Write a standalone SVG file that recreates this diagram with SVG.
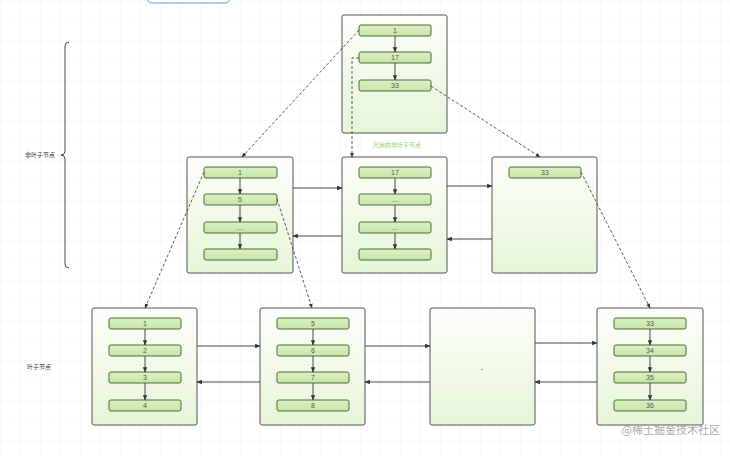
<svg xmlns="http://www.w3.org/2000/svg" width="730" height="456" viewBox="0 0 730 456">
<defs>
<pattern id="grid" width="20" height="20" patternUnits="userSpaceOnUse"><path d="M20 0H0V20" fill="none" stroke="#f4f4f4" stroke-width="1"/></pattern>
<linearGradient id="boxg" x1="0" y1="0" x2="0" y2="1"><stop offset="0" stop-color="#fdfefb"/><stop offset="1" stop-color="#e6f5d8"/></linearGradient>
<linearGradient id="rowg" x1="0" y1="0" x2="0" y2="1"><stop offset="0" stop-color="#dcf0c6"/><stop offset="1" stop-color="#c6e6a6"/></linearGradient>
<marker id="ar" viewBox="0 0 10 10" refX="9" refY="5" markerWidth="6" markerHeight="6" orient="auto"><path d="M0 1L10 5L0 9Z" fill="#333"/></marker>
<style>
.box{fill:url(#boxg);stroke:#555;stroke-width:1}
.row{fill:url(#rowg);stroke:#4d6b3a;stroke-width:1}
.t{font-family:"Liberation Sans",Arial,sans-serif;font-size:7px;fill:#555;text-anchor:middle}
.lab{font-family:"Noto Sans CJK SC",sans-serif;font-size:6px;fill:#333}
.s{fill:none;stroke:#333;stroke-width:0.9}
.d{fill:none;stroke:#333;stroke-width:0.8;stroke-dasharray:3 2}
</style>
</defs>
<rect width="730" height="456" fill="#fff"/>
<rect width="730" height="456" fill="url(#grid)"/>
<rect x="147" y="-10" width="83" height="13" rx="5" fill="#fff" stroke="#5b9be0" stroke-width="1"/>

<g id="top">
<rect class="box" x="342" y="15" width="105" height="118" rx="2"/>
<rect class="row" x="359" y="25" width="72" height="11" rx="2"/><text class="t" x="395" y="33">1</text>
<rect class="row" x="359" y="52" width="72" height="11" rx="2"/><text class="t" x="395" y="60">17</text>
<rect class="row" x="359" y="80" width="72" height="11" rx="2"/><text class="t" x="395" y="88">33</text>
</g>
<text x="397" y="147" style="font-family:'Noto Sans CJK SC',sans-serif;font-size:6px;fill:#9acd60;text-anchor:middle">冗余的非叶子节点</text>

<g id="nA">
<rect class="box" x="187" y="157" width="106" height="116" rx="2"/>
<rect class="row" x="204" y="167" width="73" height="11" rx="2"/><text class="t" x="240" y="175">1</text>
<rect class="row" x="204" y="194" width="73" height="11" rx="2"/><text class="t" x="240" y="202">5</text>
<rect class="row" x="204" y="222" width="73" height="11" rx="2"/><text class="t" x="240" y="230">...</text>
<rect class="row" x="204" y="249" width="73" height="11" rx="2"/>
</g>
<g id="nB">
<rect class="box" x="342" y="157" width="105" height="116" rx="2"/>
<rect class="row" x="359" y="167" width="72" height="11" rx="2"/><text class="t" x="395" y="175">17</text>
<rect class="row" x="359" y="194" width="72" height="11" rx="2"/><text class="t" x="395" y="202">...</text>
<rect class="row" x="359" y="222" width="72" height="11" rx="2"/><text class="t" x="395" y="230">...</text>
<rect class="row" x="359" y="249" width="72" height="11" rx="2"/>
</g>
<g id="nC">
<rect class="box" x="492" y="157" width="105" height="116" rx="2"/>
<rect class="row" x="509" y="167" width="72" height="11" rx="2"/><text class="t" x="545" y="175">33</text>
</g>

<g id="lD">
<rect class="box" x="92" y="308" width="105" height="117" rx="2"/>
<rect class="row" x="109" y="318" width="72" height="11" rx="2"/><text class="t" x="145" y="326">1</text>
<rect class="row" x="109" y="345" width="72" height="11" rx="2"/><text class="t" x="145" y="353">2</text>
<rect class="row" x="109" y="372" width="72" height="11" rx="2"/><text class="t" x="145" y="380">3</text>
<rect class="row" x="109" y="400" width="72" height="11" rx="2"/><text class="t" x="145" y="408">4</text>
</g>
<g id="lE">
<rect class="box" x="260" y="308" width="105" height="117" rx="2"/>
<rect class="row" x="277" y="318" width="72" height="11" rx="2"/><text class="t" x="313" y="326">5</text>
<rect class="row" x="277" y="345" width="72" height="11" rx="2"/><text class="t" x="313" y="353">6</text>
<rect class="row" x="277" y="372" width="72" height="11" rx="2"/><text class="t" x="313" y="380">7</text>
<rect class="row" x="277" y="400" width="72" height="11" rx="2"/><text class="t" x="313" y="408">8</text>
</g>
<g id="lF">
<rect class="box" x="430" y="308" width="105" height="117" rx="2"/>
<text class="t" x="482" y="371">-</text>
</g>
<g id="lG">
<rect class="box" x="597" y="308" width="106" height="117" rx="2"/>
<rect class="row" x="614" y="318" width="72" height="11" rx="2"/><text class="t" x="650" y="326">33</text>
<rect class="row" x="614" y="345" width="72" height="11" rx="2"/><text class="t" x="650" y="353">34</text>
<rect class="row" x="614" y="372" width="72" height="11" rx="2"/><text class="t" x="650" y="380">35</text>
<rect class="row" x="614" y="400" width="72" height="11" rx="2"/><text class="t" x="650" y="408">36</text>
</g>

<g id="connectors">
<path class="s" marker-end="url(#ar)" d="M395 36V52"/><path class="s" marker-end="url(#ar)" d="M395 63V80"/>
<path class="s" marker-end="url(#ar)" d="M240 178V194"/><path class="s" marker-end="url(#ar)" d="M240 205V222"/><path class="s" marker-end="url(#ar)" d="M240 233V249"/>
<path class="s" marker-end="url(#ar)" d="M395 178V194"/><path class="s" marker-end="url(#ar)" d="M395 205V222"/><path class="s" marker-end="url(#ar)" d="M395 233V249"/>
<path class="s" marker-end="url(#ar)" d="M145 329V345"/><path class="s" marker-end="url(#ar)" d="M145 356V372"/><path class="s" marker-end="url(#ar)" d="M145 383V400"/>
<path class="s" marker-end="url(#ar)" d="M313 329V345"/><path class="s" marker-end="url(#ar)" d="M313 356V372"/><path class="s" marker-end="url(#ar)" d="M313 383V400"/>
<path class="s" marker-end="url(#ar)" d="M650 329V345"/><path class="s" marker-end="url(#ar)" d="M650 356V372"/><path class="s" marker-end="url(#ar)" d="M650 383V400"/>
<path class="s" marker-end="url(#ar)" d="M293 188H342"/>
<path class="s" marker-end="url(#ar)" d="M342 236H293"/>
<path class="s" marker-end="url(#ar)" d="M447 186H492"/>
<path class="s" marker-end="url(#ar)" d="M492 239H447"/>
<path class="s" marker-end="url(#ar)" d="M197 346H260"/>
<path class="s" marker-end="url(#ar)" d="M260 382H197"/>
<path class="s" marker-end="url(#ar)" d="M365 346H430"/>
<path class="s" marker-end="url(#ar)" d="M430 382H365"/>
<path class="s" marker-end="url(#ar)" d="M535 343H597"/>
<path class="s" marker-end="url(#ar)" d="M597 382H535"/>
<path class="d" marker-end="url(#ar)" d="M359 30L242 157"/>
<path class="d" marker-end="url(#ar)" d="M431 86L540 157"/>
<path class="d" marker-end="url(#ar)" d="M359 58H352V157"/>
<path class="d" marker-end="url(#ar)" d="M204 172L145 308"/>
<path class="d" marker-end="url(#ar)" d="M277 199L312 308"/>
<path class="d" marker-end="url(#ar)" d="M581 172L650 308"/>
<path class="s" d="M69 42Q65 42 65 46V151Q65 155 61 155Q65 155 65 159V264Q65 268 69 268"/>
</g>
<text class="lab" x="25" y="157">非叶子节点</text>
<text class="lab" x="27" y="369">叶子节点</text>
<text x="720" y="434" style="font-family:'Noto Sans CJK SC',sans-serif;font-size:11px;fill:#aaa;text-anchor:end">@稀土掘金技术社区</text>
</svg>
